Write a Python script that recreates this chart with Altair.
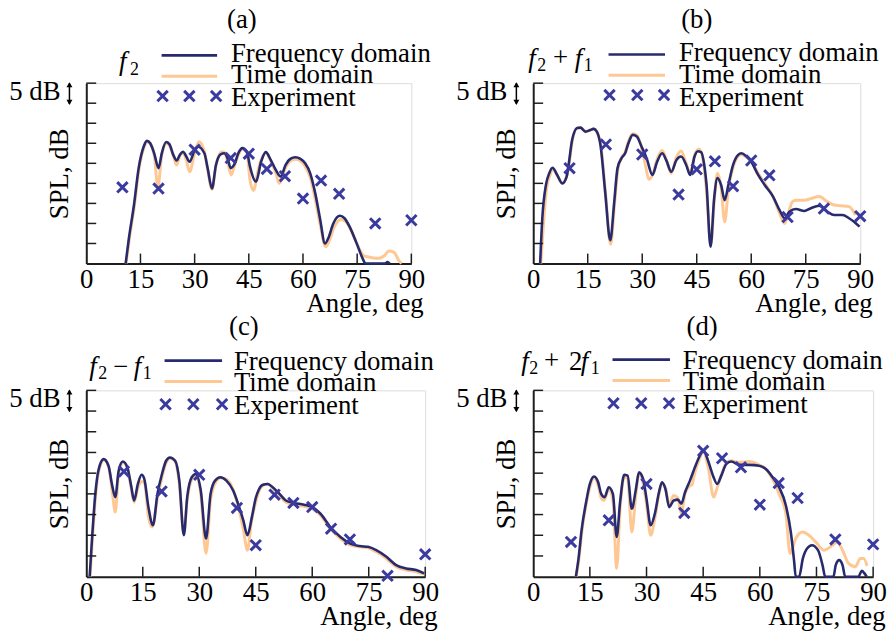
import altair as alt
import pandas as pd

FONT = "Liberation Serif"
NAVY = "#272b6d"
ORANGE = "#fec894"
XCOL = "#3a3a9f"
AXC = "#1e1e1e"
FS = 27

exp_angle = [10, 20, 30, 40, 45, 50, 55, 60, 65, 70, 80, 90]
x_ticks = [15, 30, 45, 60, 75, 90]
x_labels = [0, 15, 30, 45, 60, 75, 90]
y_ticks = [5, 10, 15, 20, 25, 30, 35, 40, 45]

# ---- panel (a): f2 ----
a_freq = [(10.9,0),(11.8,6.3),(13.2,14.6),(14.5,23.8),(15.9,29.2),(16.8,30.6),(17.7,30.0),(18.8,27.5),(20.0,23.8),(20.9,27.5),(22.1,30.3),(23.0,29.8),(24.1,27.1),(25.0,25.7),(25.9,27.1),(26.8,27.9),(27.7,26.7),(28.6,25.4),(30.0,28.3),(30.9,29.2),(32.7,27.5),(33.6,23.8),(34.8,18.7),(35.9,24.6),(37.3,27.3),(38.2,27.5),(39.1,26.3),(40.0,23.8),(40.9,24.6),(42.3,27.9),(43.2,28.8),(44.5,27.8),(45.3,24.3),(47.0,20.4),(48.4,25.4),(49.7,27.8),(51.1,25.8),(52.5,23.3),(53.8,21.7),(55.2,24.6),(56.5,26.1),(57.9,26.5),(59.3,26.1),(60.6,25.0),(62.0,22.5),(63.4,17.5),(64.7,11.3),(66.1,5.0),(67.0,6.3),(68.4,10.0),(70.2,11.9),(71.5,11.3),(72.9,9.2),(74.7,5.4),(76.5,1.3),(77.3,0),(82.8,0),(83.4,0.4),(84.0,0)]
a_time = [(11.0,0),(11.9,6.0),(13.3,14.3),(14.6,23.6),(16.0,29.0),(16.9,30.4),(17.8,29.8),(18.9,26.5),(19.8,19.0),(20.9,27.0),(22.1,30.0),(23.0,29.5),(24.1,26.8),(25.0,24.6),(25.9,26.8),(26.8,27.6),(27.7,25.8),(28.6,22.9),(30.0,27.5),(31.2,30.4),(32.7,28.0),(33.6,23.5),(34.8,18.5),(35.9,24.3),(37.3,27.8),(38.2,27.8),(39.1,25.5),(40.1,22.1),(40.9,24.0),(42.3,27.5),(43.2,28.6),(44.5,27.5),(45.3,21.0),(46.3,18.2),(47.5,23.0),(48.4,25.8),(49.7,27.5),(51.1,25.5),(52.5,22.5),(53.4,20.0),(55.2,24.0),(56.5,25.6),(57.9,26.0),(59.3,25.6),(60.6,24.2),(62.0,21.5),(63.4,16.0),(64.7,10.0),(66.3,4.2),(67.2,5.5),(68.6,9.0),(70.5,11.0),(71.8,10.5),(73.2,8.5),(75.0,4.8),(76.8,2.0),(77.9,1.7),(79.5,1.4),(81.1,1.3),(82.6,2.0),(83.8,3.1),(85.2,2.8),(86.5,0.8),(87.3,0)]
a_exp = [19.0, 18.7, 28.4, 26.3, 27.4, 23.6, 21.8, 16.2, 20.7, 17.4, 10.0, 10.8]

# ---- panel (b): f2 + f1 ----
b_freq = [(1.9,0),(2.5,11.3),(3.5,19.6),(4.4,22.5),(5.3,23.9),(6.6,22.1),(8.0,20.0),(9.2,21.7),(9.8,25.0),(10.7,30.8),(12.1,33.8),(13.0,33.9),(14.4,32.9),(15.7,33.3),(16.6,33.6),(17.5,32.9),(18.5,29.6),(19.8,17.9),(21.2,5.8),(22.3,15.4),(23.2,23.8),(24.4,26.4),(25.3,27.5),(26.2,30.0),(27.4,32.1),(28.5,31.7),(29.8,29.2),(31.2,26.3),(32.8,22.1),(34.1,25.4),(35.5,27.5),(36.6,25.8),(38.0,22.9),(39.4,25.8),(40.7,26.7),(42.1,24.6),(43.2,22.1),(44.4,26.7),(45.3,28.0),(46.2,27.8),(47.0,25.0),(47.7,19.6),(48.8,4.2),(49.8,16.3),(50.7,21.3),(51.7,19.6),(52.7,15.8),(53.7,19.6),(55.0,24.6),(56.4,27.1),(57.3,27.5),(58.7,26.7),(60.0,25.4),(61.9,22.1),(63.7,19.6),(66.0,16.7),(67.8,13.3),(69.2,11.3),(70.5,12.9),(72.3,13.6),(74.6,13.1),(76.4,13.8),(78.7,14.4),(81.0,12.9),(82.8,12.1),(85.1,12.1),(86.9,11.3),(88.3,10.4),(89.8,9.2)]
b_time = [(2.1,0),(2.8,9.6),(3.7,18.8),(4.6,22.0),(5.4,23.6),(6.6,22.0),(8.0,20.0),(9.2,21.7),(9.9,25.0),(10.8,30.8),(12.1,33.8),(13.0,33.9),(14.4,32.9),(15.7,33.3),(16.6,33.6),(17.5,32.9),(18.6,29.6),(19.9,17.5),(21.3,4.8),(22.4,15.0),(23.3,23.5),(24.4,26.6),(25.3,27.8),(26.2,30.5),(27.4,32.4),(28.5,32.0),(29.8,29.0),(31.0,24.0),(31.8,21.0),(33.0,22.5),(34.1,26.0),(35.5,28.2),(36.6,26.0),(38.0,22.5),(39.4,26.5),(40.7,28.1),(42.1,25.0),(43.2,22.5),(44.4,27.0),(45.6,28.6),(46.5,27.0),(47.6,19.0),(48.9,4.8),(49.9,16.5),(50.7,22.5),(51.7,19.0),(52.7,10.4),(53.7,18.5),(55.0,24.0),(56.4,26.8),(57.3,27.2),(58.7,26.5),(60.0,25.6),(61.9,22.5),(63.7,20.0),(66.0,16.7),(67.8,12.5),(69.2,10.0),(70.2,12.5),(71.3,15.4),(72.3,15.8),(74.6,15.8),(76.4,16.2),(78.7,16.7),(81.0,15.4),(82.8,14.6),(84.6,14.4),(86.9,14.2),(88.7,12.1)]
b_exp = [23.8, 29.7, 27.2, 17.2, 23.5, 25.5, 19.3, 25.7, 22.0, 11.6, 13.7, 11.8]

# ---- panel (c): f2 - f1 ----
c_freq = [(0.9,0),(1.5,8.8),(2.4,20.0),(3.2,25.6),(4.6,28.4),(5.9,26.8),(6.8,22.4),(7.7,19.2),(8.6,25.6),(9.7,27.8),(10.9,26.4),(11.9,22.0),(12.7,18.4),(13.7,22.4),(14.7,24.6),(15.4,23.6),(16.5,16.8),(17.7,12.4),(18.9,20.0),(20.1,24.8),(21.2,28.0),(22.2,28.8),(23.6,28.0),(24.7,23.2),(25.9,10.0),(26.8,19.2),(28.0,24.0),(29.1,24.8),(30.4,20.8),(31.8,9.2),(33.0,20.0),(34.2,23.2),(35.6,24.0),(37.2,23.2),(39.0,20.8),(40.6,16.8),(41.7,13.6),(42.8,10.0),(44.0,14.5),(45.0,19.0),(45.8,21.0),(46.9,22.2),(48.2,22.4),(49.5,21.6),(51.3,20.0),(53.0,18.4),(55.2,17.8),(57.8,17.4),(60.0,16.8),(62.2,15.2),(64.8,12.0),(67.5,9.6),(70.1,8.0),(72.6,7.4),(74.8,7.2),(77.0,6.4),(79.7,4.8),(82.3,2.8),(84.9,2.0),(87.6,1.6),(89.7,0.8)]
c_time = [(1.0,0),(1.6,8.5),(2.5,19.8),(3.3,25.4),(4.7,28.2),(6.0,26.2),(6.9,20.5),(7.7,15.6),(8.6,25.0),(9.8,27.6),(10.9,26.2),(11.9,21.5),(12.7,18.0),(13.7,21.5),(14.8,23.0),(15.5,22.5),(16.5,14.5),(17.5,12.0),(18.9,19.0),(20.1,24.0),(21.2,27.5),(22.3,28.6),(23.6,27.8),(24.7,22.5),(25.9,10.5),(26.8,18.5),(28.0,23.5),(29.1,24.6),(30.4,20.0),(31.8,5.6),(33.0,18.5),(34.2,22.5),(35.6,23.8),(37.2,23.5),(39.0,21.0),(40.6,16.0),(41.7,11.5),(42.8,6.4),(43.9,13.5),(45.0,18.0),(45.8,20.5),(46.9,22.0),(48.2,22.4),(49.5,21.4),(51.3,19.6),(53.0,18.0),(55.2,17.4),(57.8,17.0),(60.0,16.4),(62.2,14.8),(64.8,11.6),(67.5,9.2),(70.1,7.6),(72.6,7.2),(74.8,7.0),(77.0,6.0),(79.7,4.4),(82.3,2.4),(84.9,1.6),(87.6,1.2),(89.7,0.6)]
c_exp = [25.4, 20.6, 24.6, 16.6, 7.6, 19.8, 17.8, 16.8, 11.6, 9.0, 0.2, 5.4]

# ---- panel (d): f2 + 2f1 ----
d_freq = [(11.3,0),(12.0,4.4),(12.8,11.2),(14.0,18.0),(15.0,22.4),(16.1,24.2),(17.2,22.8),(18.0,20.0),(18.9,19.2),(20.0,21.6),(21.1,20.0),(22.1,9.6),(23.0,18.0),(24.1,24.6),(25.0,24.4),(26.1,16.4),(27.2,21.2),(28.0,25.2),(29.1,23.6),(30.0,18.8),(31.1,12.4),(32.2,15.2),(33.3,20.4),(34.1,22.8),(35.0,21.2),(36.0,16.8),(37.2,18.4),(38.3,18.6),(39.2,17.6),(40.2,20.4),(41.5,23.2),(42.8,26.4),(44.1,29.2),(45.0,30.6),(46.3,28.0),(47.6,24.4),(48.7,22.4),(49.8,24.4),(51.1,27.2),(52.4,27.8),(54.6,27.0),(57.2,27.0),(59.8,26.8),(61.6,26.0),(63.4,24.0),(65.1,21.6),(66.9,17.2),(68.2,10.8),(69.1,3.6),(69.5,0),(70.4,0),(71.4,4.4),(72.5,6.8),(73.8,7.6),(75.4,6.4),(76.6,2.8),(77.3,0),(79.5,0),(80.1,2.8),(81.0,4.0),(81.9,2.8),(82.6,0),(86.1,0),(87.0,1.4),(87.7,0.8),(88.3,0)]
d_time = [(11.4,0),(12.1,4.2),(12.9,11.0),(14.1,17.8),(15.1,22.0),(16.1,23.8),(17.2,22.0),(18.0,19.0),(18.7,18.4),(20.0,21.0),(21.1,18.5),(22.1,2.0),(23.0,16.5),(24.1,24.0),(25.0,23.8),(26.1,10.8),(27.2,20.0),(28.0,24.8),(29.1,22.5),(30.0,17.5),(31.1,10.0),(32.2,14.0),(33.3,20.0),(34.1,22.5),(35.0,21.5),(36.0,17.5),(37.2,19.6),(38.3,19.0),(39.2,15.2),(40.2,20.0),(41.5,22.0),(42.0,22.2),(42.8,25.2),(44.1,28.6),(45.0,30.4),(46.3,26.5),(47.8,19.2),(48.7,21.5),(49.8,24.5),(51.1,27.5),(52.4,28.0),(54.6,27.6),(57.2,27.8),(59.8,27.0),(61.6,26.0),(63.4,23.5),(65.1,20.0),(66.9,15.2),(68.0,5.6),(69.5,9.2),(71.3,10.8),(73.0,10.0),(74.8,8.4),(77.0,6.4),(79.2,7.6),(80.5,8.4),(81.9,6.4),(83.5,3.2),(85.3,2.4),(86.6,4.4),(87.5,4.4),(88.4,2.6)]
d_exp = [8.4, 13.6, 22.4, 15.4, 30.4, 28.6, 26.4, 17.4, 22.6, 19.0, 9.0, 7.8]

legend_names = ["Frequency domain", "Time domain", "Experiment"]
CROSS_PATH = "M-1,-1L1,1M-1,1L1,-1"


def panel(freq, time, exp_db, W, H, letter, letter_dx, letter_y, pieces, leg):
    xs = alt.Scale(domain=[0, 90], nice=False, zero=False)
    ys = alt.Scale(domain=[0, 45], nice=False, zero=False)
    xaxis = alt.Axis(values=x_labels, ticks=False, domain=True, domainColor=AXC,
                     domainWidth=2, grid=False, labelFont=FONT, labelFontSize=FS,
                     labelColor="black", labelPadding=3, labelFlush=False,
                     labelOverlap=False, title="Angle, deg", titleFont=FONT,
                     titleFontSize=FS, titleFontWeight="normal", titleColor="black",
                     titleX=W + 12, titleY=48, titleAlign="right",
                     titleBaseline="alphabetic", titleAnchor="end")
    yaxis = alt.Axis(values=y_ticks, ticks=False, labels=False, domain=True,
                     domainColor=AXC, domainWidth=2, grid=False, title="SPL, dB",
                     titleFont=FONT, titleFontSize=FS, titleFontWeight="normal",
                     titleColor="black", titleX=-19, titleY=H / 2, titleAngle=270,
                     titleAlign="center", titleBaseline="alphabetic")
    X = alt.X("deg:Q", scale=xs, axis=xaxis)
    Y = alt.Y("db:Q", scale=ys, axis=yaxis)

    df_f = pd.DataFrame(freq, columns=["deg", "db"])
    df_t = pd.DataFrame(time, columns=["deg", "db"])
    df_e = pd.DataFrame({"deg": exp_angle, "db": exp_db})

    time_line = alt.Chart(df_t).mark_line(color=ORANGE, strokeWidth=3,
                                          interpolate="monotone").encode(x=X, y=Y)
    freq_line = alt.Chart(df_f).mark_line(color=NAVY, strokeWidth=2.6,
                                          interpolate="monotone").encode(x=X, y=Y)
    pts = alt.Chart(df_e).mark_point(shape=CROSS_PATH, size=110, filled=False,
                                     color=XCOL, strokeWidth=3, opacity=1).encode(x=X, y=Y)
    yt = alt.Chart(pd.DataFrame({"db": y_ticks})).mark_rule(
        color=AXC, strokeWidth=1.5).encode(y=Y, x=alt.value(0), x2=alt.value(10))
    xt = alt.Chart(pd.DataFrame({"deg": x_ticks})).mark_rule(
        color=AXC, strokeWidth=1.5).encode(x=X, y=alt.value(H), y2=alt.value(H - 10))

    # "5 dB" scale marker
    five = alt.Chart(pd.DataFrame({"t": ["5 dB"]})).mark_text(
        font=FONT, fontSize=FS, align="right", baseline="alphabetic", color="black"
    ).encode(text="t:N", x=alt.value(-26), y=alt.value(17))
    arr = alt.Chart(pd.DataFrame({"t": [0]})).mark_rule(color="black", strokeWidth=1.5).encode(
        x=alt.value(-17), y=alt.value(0), y2=alt.value(21))
    arr_up = alt.Chart(pd.DataFrame({"t": [0]})).mark_point(
        shape="triangle-up", size=36, filled=True, color="black", opacity=1).encode(
        x=alt.value(-17), y=alt.value(1.6))
    arr_dn = alt.Chart(pd.DataFrame({"t": [0]})).mark_point(
        shape="triangle-down", size=36, filled=True, color="black", opacity=1).encode(
        x=alt.value(-17), y=alt.value(19.4))

    # panel letter
    lt = alt.Chart(pd.DataFrame({"t": [letter]})).mark_text(
        font=FONT, fontSize=FS, align="center", baseline="alphabetic", color="black"
    ).encode(text="t:N", x=alt.value(W / 2 + letter_dx), y=alt.value(letter_y))

    # series label (f2, f2+f1, ...)
    pdf = pd.DataFrame(pieces, columns=["t", "it", "px", "py", "sz"])
    lab_layers = []
    for it, style in [(True, "italic"), (False, "normal")]:
        sub = pdf[pdf["it"] == it]
        if len(sub):
            lab_layers.append(alt.Chart(sub).mark_text(
                font=FONT, fontStyle=style, align="left", baseline="alphabetic",
                color="black").encode(
                text="t:N",
                x=alt.X("px:Q", scale=None, axis=None),
                y=alt.Y("py:Q", scale=None, axis=None),
                size=alt.Size("sz:Q", scale=None, legend=None)))

    # legend
    lx0, lx1, ly, cx, cy, tx, ty = leg
    sw = pd.DataFrame({"px": [lx0, lx0], "px2": [lx1, lx1], "py": list(ly),
                       "c": [NAVY, ORANGE], "w": [2.6, 3.0]})
    sw_layer = alt.Chart(sw).mark_rule().encode(
        x=alt.X("px:Q", scale=None, axis=None), x2="px2:Q",
        y=alt.Y("py:Q", scale=None, axis=None),
        color=alt.Color("c:N", scale=None, legend=None),
        strokeWidth=alt.StrokeWidth("w:Q", scale=None, legend=None))
    cr = pd.DataFrame({"px": list(cx), "py": [cy] * 3})
    cr_layer = alt.Chart(cr).mark_point(shape=CROSS_PATH, size=110, filled=False,
                                        color=XCOL, strokeWidth=3, opacity=1).encode(
        x=alt.X("px:Q", scale=None, axis=None), y=alt.Y("py:Q", scale=None, axis=None))
    tl = pd.DataFrame({"px": [tx] * 3, "py": list(ty), "t": legend_names})
    tl_layer = alt.Chart(tl).mark_text(font=FONT, fontSize=FS, align="left",
                                       baseline="alphabetic", color="black").encode(
        x=alt.X("px:Q", scale=None, axis=None), y=alt.Y("py:Q", scale=None, axis=None),
        text="t:N")

    return alt.layer(time_line, freq_line, pts, yt, xt, five, arr, arr_up, arr_dn, lt,
                     *lab_layers, sw_layer, cr_layer, tl_layer).properties(width=W, height=H)


pa = panel(a_freq, a_time, a_exp, 328, 182, "(a)", -7, -56,
           [("f", True, 33, -13, FS), ("2", False, 44, -8, 18)],
           (76, 132, (-28, -7), (77, 104, 131), 13, 146, (-21, 0, 23)))
pb = panel(b_freq, b_time, b_exp, 330, 182, "(b)", 0, -56,
           [("f", True, -5, -16, FS), ("2", False, 4, -12, 18), ("+", False, 20, -17, FS),
            ("f", True, 42, -16, FS), ("1", False, 51, -12, 18)],
           (76, 133, (-29, -8), (77, 105, 132), 12, 147, (-22, 0, 23)))
pc = panel(c_freq, c_time, c_exp, 342, 188, "(c)", -12, -56,
           [("f", True, 3, -15, FS), ("2", False, 12, -11, 18), ("\u2212", False, 27, -16, FS),
            ("f", True, 48, -15, FS), ("1", False, 57, -11, 18)],
           (79, 137, (-30, -9), (80, 108, 137), 14, 149, (-21, 1, 24)))
pd_ = panel(d_freq, d_time, d_exp, 343, 188, "(d)", -1, -56,
            [("f", True, -12, -21, FS), ("2", False, -4, -17, 18), ("+", False, 11, -22, FS),
             ("2", False, 36, -21, FS), ("f", True, 48, -21, FS), ("1", False, 58, -17, 18)],
            (80, 138, (-31, -10), (81, 109, 137), 13, 151, (-22, 0, 23)))

chart = alt.concat(pa, pb, pc, pd_, columns=2, spacing={"row": 128, "column": 109},
                   bounds="flush").properties(
    padding={"left": 0, "top": -6, "right": 0, "bottom": 0}
).configure_view(stroke=None).configure(background="white")

chart.save("out.html", embed_options={"renderer": "svg", "actions": False})
